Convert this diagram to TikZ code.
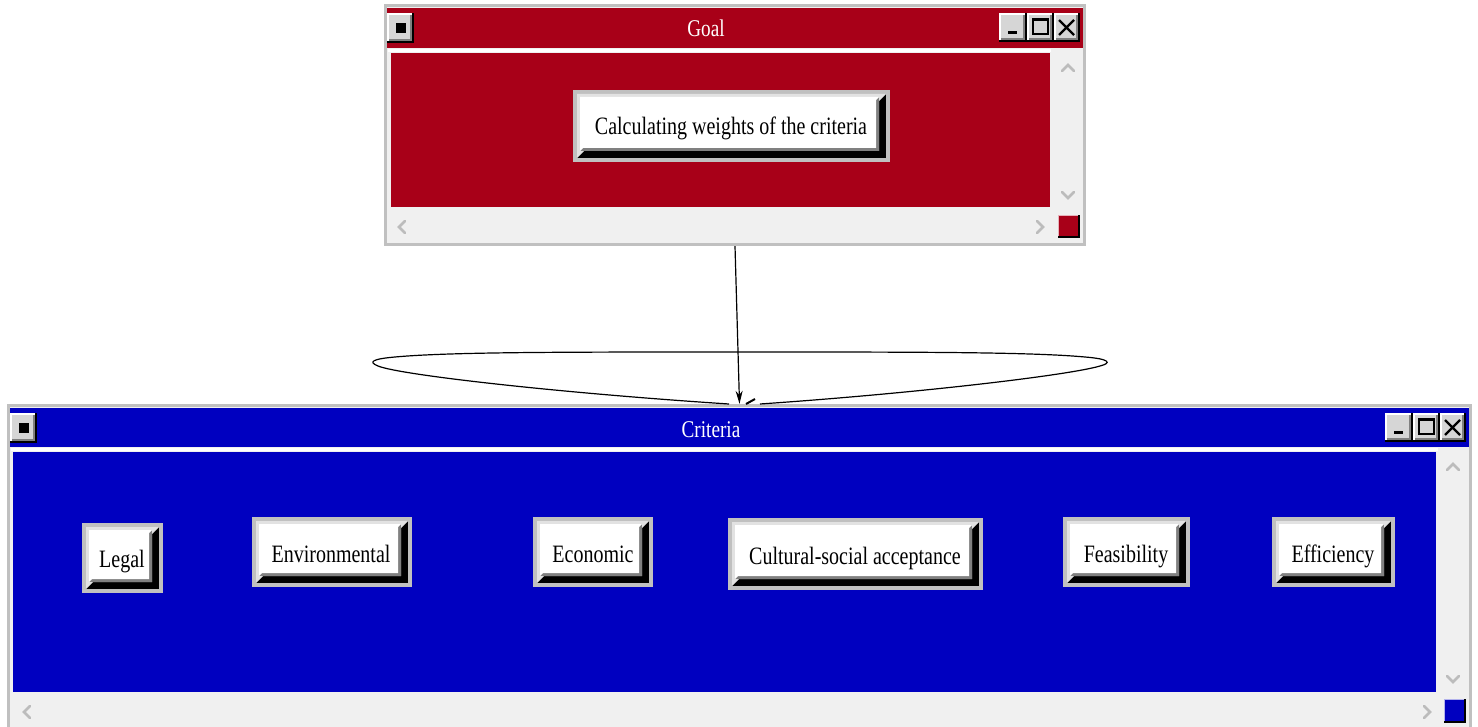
\documentclass[tikz,border=0pt]{standalone}
\usepackage{fontspec}
\setmainfont{Liberation Serif}
\newfontfamily\tallserif[FakeStretch=0.8]{Liberation Serif}
\usetikzlibrary{arrows.meta}

\definecolor{goalred}{RGB}{168,0,24}
\definecolor{critblue}{RGB}{0,0,192}
\definecolor{framegray}{RGB}{192,192,192}
\definecolor{winbg}{RGB}{240,240,240}
\definecolor{bevlight}{RGB}{226,226,226}
\definecolor{bevdark}{RGB}{128,128,128}
\definecolor{btnface}{RGB}{214,214,214}
\definecolor{chevgray}{RGB}{188,188,188}

% raised 3-D box with a grey surround: x0 y0 x1 y1
\newcommand\bevbox[4]{%
  \fill[framegray] (#1,#2) rectangle (#3,#4);
  \fill[black] ({#1+4},{#2+4}) rectangle ({#3-4},{#4-4});
  \fill[bevlight] ({#1+4},{#2+4}) -- ({#3-4},{#2+4}) -- ({#3-11},{#2+11})
      -- ({#3-11},{#4-11}) -- ({#1+11},{#4-11}) -- ({#1+4},{#4-4}) -- cycle;
  \fill[bevdark] ({#1+7},{#2+7}) rectangle ({#3-11},{#4-11});
  \fill[white] ({#1+7},{#2+7}) -- ({#3-11},{#2+7}) -- ({#3-14},{#2+10})
      -- ({#3-14},{#4-14}) -- ({#1+10},{#4-14}) -- ({#1+7},{#4-11}) -- cycle;
}

% small title-bar button: x0 y0 x1 y1
\newcommand\tbtn[4]{%
  \fill[black] (#1,#2) rectangle (#3,#4);
  \fill[white] (#1,#2) rectangle ({#3-2},{#4-2});
  \fill[bevdark] ({#1+2},{#2+2}) rectangle ({#3-2},{#4-2});
  \fill[btnface] ({#1+2},{#2+2}) rectangle ({#3-4},{#4-4});
}

% minimise / maximise / close glyphs, left edge of the minimise button and top y
\newcommand\wincontrols[2]{%
  \tbtn{#1}{#2}{#1+28}{#2+29}
  \tbtn{#1+28}{#2}{#1+55}{#2+29}
  \tbtn{#1+55}{#2}{#1+81}{#2+29}
  \fill[black] ({#1+9},{#2+18}) rectangle ({#1+18},{#2+21});
  \draw[black, line width=1.5pt] ({#1+34},{#2+6}) rectangle ({#1+49},{#2+21});
  \fill[black] ({#1+33.25},{#2+5.25}) rectangle ({#1+49.75},{#2+8});
  \draw[black, line width=2.2pt] ({#1+60},{#2+7}) -- ({#1+75},{#2+22})
       ({#1+75},{#2+7}) -- ({#1+60},{#2+22});
}

% system-menu button
\newcommand\sysbtn[2]{%
  \tbtn{#1}{#2}{#1+27}{#2+30}
  \fill[black] ({#1+9},{#2+10}) rectangle ({#1+19},{#2+20});
}

\tikzset{
  btntext/.style={font=\tallserif\fontsize{25}{30}\selectfont, inner sep=0pt, text=black, anchor=base},
  wintext/.style={font=\tallserif\fontsize{24}{28}\selectfont, inner sep=0pt, text=white, anchor=base},
  chev/.style={draw=chevgray, line width=2.6pt, line cap=round, line join=miter},
  link/.style={line width=1.2pt, -{Stealth[length=13pt,width=7pt]}},
  loopline/.style={line width=1.2pt},
  winarea/.style={inner sep=0pt, draw=none},
}

\begin{document}
\begin{tikzpicture}[x=1pt, y=-1pt]
\useasboundingbox[fill=white] (0,0) rectangle (1478,727);

%% ---------------- Goal window ----------------
\fill[framegray] (384,4) rectangle (1086,246);
\fill[winbg] (387,7) rectangle (1083,243);
\fill[goalred] (387,8) rectangle (1083,48);
\fill[white] (388,49) rectangle (1051,52);
\fill[goalred] (391,53) rectangle (1050,207);
\sysbtn{387}{13}
\wincontrols{999}{13}
\node[wintext] (goaltitle) at (706,37) {Goal};
% scroll bars
\draw[chev] (1062,71) -- (1068,65) -- (1074,71);
\draw[chev] (1062,192) -- (1068,198) -- (1074,192);
\draw[chev] (405,221) -- (399,227) -- (405,233);
\draw[chev] (1037,221) -- (1043,227) -- (1037,233);
\fill[black] (1058,215) rectangle (1080,238);
\fill[white!70!goalred] (1058,215) rectangle (1078,236);
\fill[goalred] (1059,216) rectangle (1078,236);
\node[winarea, minimum width=702pt, minimum height=242pt] (goalwin) at (735,125) {};

% goal box
\bevbox{573}{90}{890}{162}
\node[btntext] (calc) at (731,135) {Calculating weights of the criteria};

%% ---------------- Criteria window ----------------
\fill[framegray] (7,404) rectangle (1472,740);
\fill[winbg] (10,407) rectangle (1469,740);
\fill[critblue] (10,408) rectangle (1469,447);
\fill[white] (11,448) rectangle (1438,451);
\fill[critblue] (13,452) rectangle (1436,692);
\sysbtn{10}{413}
\wincontrols{1385}{413}
\node[wintext] (crittitle) at (711,437) {Criteria};
% scroll bars
\draw[chev] (1447,470) -- (1453,464) -- (1459,470);
\draw[chev] (1447,676) -- (1453,682) -- (1459,676);
\draw[chev] (30,706) -- (24,712) -- (30,718);
\draw[chev] (1424,706) -- (1430,712) -- (1424,718);
\fill[black] (1444,699) rectangle (1466,723);
\fill[white!70!critblue] (1444,699) rectangle (1464,721);
\fill[critblue] (1445,700) rectangle (1464,721);
\node[winarea, minimum width=1465pt, minimum height=331pt] (critwin) at (739.5,569.5) {};

% criteria boxes
\bevbox{82}{523}{163}{593}
\node[btntext] (legal) at (122,567) {Legal};
\bevbox{252}{517}{412}{587}
\node[btntext] (environmental) at (331,562) {Environmental};
\bevbox{533}{517}{653}{587}
\node[btntext] (economic) at (593,562) {Economic};
\bevbox{728}{518}{983}{590}
\node[btntext] (cultural) at (855,564) {Cultural-social acceptance};
\bevbox{1063}{517}{1190}{587}
\node[btntext] (feasibility) at (1126,562) {Feasibility};
\bevbox{1272}{517}{1395}{587}
\node[btntext] (efficiency) at (1333,562) {Efficiency};

%% ---------------- connector ----------------
\coordinate (loopleft) at (729,404);
\coordinate (loopright) at (760,404);
\draw[loopline] (loopleft) .. controls (560,393) and (400,375) .. (378,366)
  .. controls (368,362) and (372,359) .. (395,357)
  .. controls (450,352) and (560,352) .. (740,352)
  .. controls (920,352) and (1030,352) .. (1085,357)
  .. controls (1110,359) and (1112,363) .. (1100,366)
  .. controls (1070,375) and (920,393) .. (loopright);
\draw[line width=2pt] (746,404) -- (755,399);
\draw[link] (goalwin.south) -- (critwin.north);
\end{tikzpicture}
\end{document}
